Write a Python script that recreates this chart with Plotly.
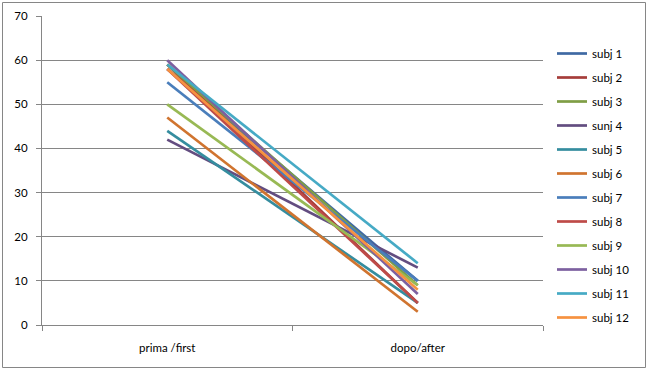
import plotly.graph_objects as go

categories = ["prima /first", "dopo/after"]
names = ["subj 1", "subj 2", "subj 3", "sunj 4", "subj 5", "subj 6",
         "subj 7", "subj 8", "subj 9", "subj 10", "subj 11", "subj 12"]
before = [58, 59, 59, 42, 44, 47, 55, 58, 50, 60, 59, 58]
after = [10, 5, 9, 13, 5, 3, 10, 5, 9, 7, 14, 8]
colors = ["#3F69A3", "#A63D3A", "#7F9E45", "#634D80", "#358D9F", "#D0742F",
          "#4A7EBB", "#BE4B48", "#98B954", "#7D60A0", "#46AAC5", "#F69240"]

W, H = 648, 371
L, R, T, B = 42, 543, 16, 325

fig = go.Figure()
for i, n in enumerate(names):
    fig.add_trace(go.Scatter(
        x=categories, y=[before[i], after[i]], mode="lines", name=n,
        legendgroup=n, line=dict(color=colors[i], width=2.7)))

def px2x(px):
    return (px - L) / (R - L)

def px2y(py):
    return (B - py) / (B - T)

fig.update_layout(
    width=W, height=H,
    margin=dict(l=L, r=W - R, t=T, b=H - B, pad=0, autoexpand=False),
    paper_bgcolor="white", plot_bgcolor="white",
    font=dict(family="Lato, 'Liberation Sans', sans-serif", size=11.5, color="#000000"),
    showlegend=True,
    legend=dict(x=px2x(552), xanchor="left", y=px2y(39), yanchor="top",
                traceorder="grouped", tracegroupgap=5.0,
                font=dict(size=11.5), bgcolor="rgba(0,0,0,0)", itemwidth=30),
    xaxis=dict(type="category", showgrid=False, showline=True, linecolor="#868686",
               linewidth=1, ticks="outside", ticklen=5, tickcolor="#868686",
               tickson="boundaries", range=[-0.5, 1.5], fixedrange=True,
               ticklabelstandoff=12),
    yaxis=dict(range=[0, 70], dtick=10, showgrid=True, gridcolor="#868686",
               gridwidth=1, showline=True, linecolor="#868686", linewidth=1,
               ticks="outside", ticklen=5, tickcolor="#868686", zeroline=False,
               ticklabelstandoff=6, fixedrange=True),
    shapes=[dict(type="rect", xref="paper", yref="paper",
                 x0=px2x(2.5), x1=px2x(645.5), y0=px2y(367.5), y1=px2y(2.5),
                 line=dict(color="#868686", width=1), layer="below")],
)

fig.write_html("out.html", config={"displayModeBar": False},
               post_script="document.body.style.margin='0';")
